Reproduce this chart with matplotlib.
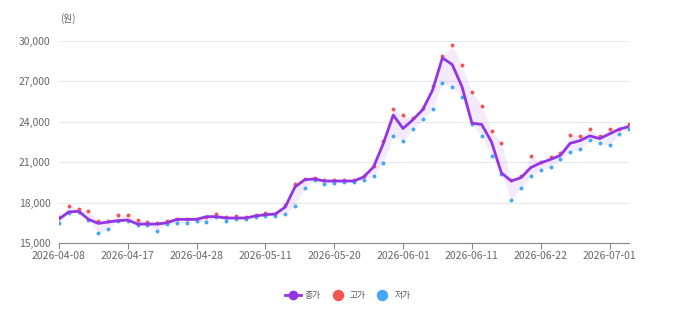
import pandas as pd
import matplotlib.pyplot as plt
from matplotlib.lines import Line2D

plt.rcParams['font.family'] = ['Noto Sans CJK KR', 'DejaVu Sans']

# trading days (weekends and KRX holidays removed)
holidays = ['2026-05-01', '2026-05-05', '2026-05-25', '2026-06-03']
dates = pd.bdate_range('2026-04-08', '2026-07-03', freq='C', holidays=holidays)

close = [16770, 17300, 17350, 16750, 16450, 16550, 16650, 16700, 16400, 16400,
         16400, 16500, 16750, 16750, 16750, 16950, 16950, 16850, 16850, 16850,
         17000, 17100, 17150, 17650, 19150, 19700, 19750, 19600, 19600, 19600,
         19600, 19900, 20650, 22400, 24500, 23500, 24150, 24900, 26350, 28750,
         28250, 26600, 23900, 23800, 22500, 20200, 19600, 19850, 20600, 20950,
         21200, 21500, 22400, 22600, 22950, 22750, 23100, 23450, 23650]
high = [16900, 17750, 17550, 17400, 16600, 16650, 17050, 17100, 16700, 16550,
        16500, 16650, 16800, 16800, 16800, 16950, 17150, 16900, 17000, 16900,
        17050, 17200, 17150, 17800, 19400, 19750, 19800, 19700, 19650, 19650,
        19650, 20000, 20700, 22600, 24950, 24500, 24300, 25050, 26650, 28850,
        29700, 28200, 26200, 25200, 23350, 22450, 19700, 20000, 21450, 21000,
        21400, 21650, 23000, 22950, 23450, 22950, 23450, 23500, 23850]
low = [16450, 17250, 17300, 16700, 15750, 16050, 16650, 16650, 16350, 16300,
       15900, 16400, 16500, 16500, 16650, 16550, 16900, 16650, 16800, 16800,
       16900, 17000, 17000, 17150, 17750, 19100, 19650, 19350, 19450, 19500,
       19550, 19650, 19950, 20950, 22950, 22550, 23450, 24200, 24950, 26900,
       26550, 25850, 23800, 22950, 21450, 20150, 18200, 19050, 19950, 20450,
       20650, 21200, 21750, 22000, 22650, 22450, 22250, 23100, 23500]

tick_every = 7

purple = '#9334e6'
red = '#f4564f'
blue = '#42a8f6'

fig = plt.figure(figsize=(6.74, 3.23), dpi=100)
ax = fig.add_axes([0.0875, 0.248, 0.846, 0.625])

x = list(range(len(dates)))
ax.fill_between(x, low, high, color=purple, alpha=0.1, linewidth=0, zorder=1)
ax.plot(x, close, color=purple, linewidth=2, zorder=3)
ax.scatter(x, high, s=8, color=red, zorder=2, linewidths=0)
ax.scatter(x, low, s=8, color=blue, zorder=2, linewidths=0)

ax.set_xlim(0, len(dates) - 1)
ax.set_ylim(15000, 30000)
ax.set_yticks(range(15000, 30001, 3000))
ax.yaxis.set_major_formatter(plt.FuncFormatter(lambda v, p: f'{int(v):,}'))
ticks = x[::tick_every]
ax.set_xticks(ticks)
ax.set_xticklabels([dates[i].strftime('%Y-%m-%d') for i in ticks])

ax.grid(axis='y', color='#e6e9f0', linewidth=0.8)
ax.set_axisbelow(True)
for s in ['top', 'right', 'left']:
    ax.spines[s].set_visible(False)
ax.spines['bottom'].set_color('#888888')
ax.tick_params(axis='y', length=0, labelsize=7.5, labelcolor='#666666', pad=6)
ax.tick_params(axis='x', length=4, color='#888888', labelsize=7.5,
               labelcolor='#666666', pad=2)

fig.text(0.101, 0.944, '(원)', fontsize=7, color='#666666', ha='center', va='center')

handles = [
    Line2D([0], [0], color=purple, linewidth=2, marker='o', markersize=6),
    Line2D([0], [0], color=red, linewidth=0, marker='o', markersize=7.2),
    Line2D([0], [0], color=blue, linewidth=0, marker='o', markersize=7.2),
]
fig.legend(handles, ['종가', '고가', '저가'], loc='center', bbox_to_anchor=(0.516, 0.086),
           ncol=3, frameon=False, fontsize=6.3, labelcolor='#555555',
           handlelength=1.8, handletextpad=0.5, columnspacing=1.0)

fig.savefig('out.png', dpi=100)
